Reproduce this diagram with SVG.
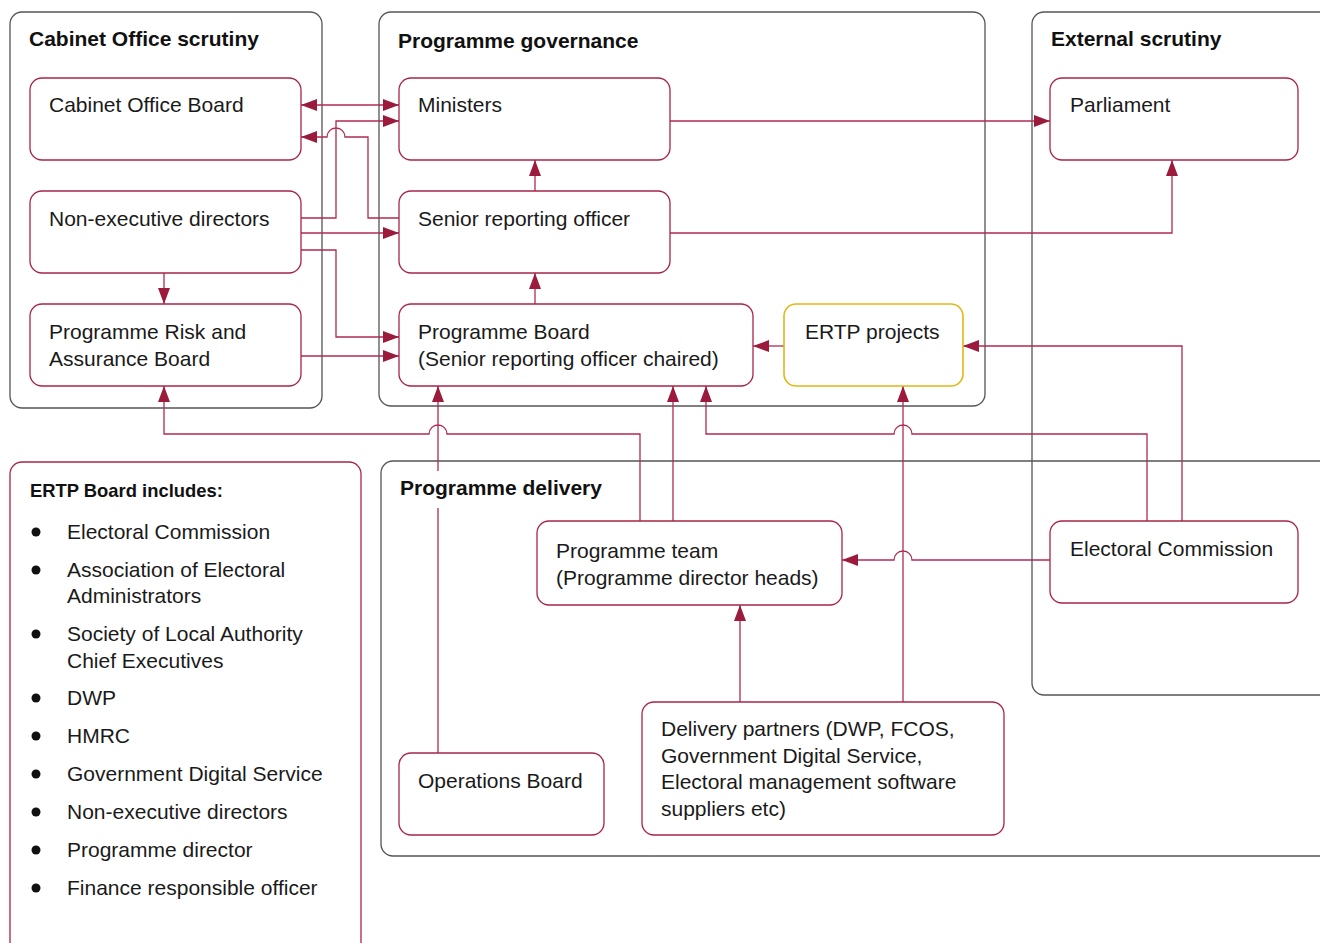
<svg xmlns="http://www.w3.org/2000/svg" width="1320" height="943" viewBox="0 0 1320 943">
<style>
.bg{fill:#fff}
.cont{fill:none;stroke:#555;stroke-width:1.3}
.node{fill:#fff;stroke:#a8244a;stroke-width:1.3}
.gold{fill:#fff;stroke:#e2b714;stroke-width:1.6}
.title{font-family:"Liberation Sans",Arial,sans-serif;font-weight:bold;font-size:21px;fill:#111}
.lbl{font-family:"Liberation Sans",Arial,sans-serif;font-size:21px;fill:#1a1a1a}
.sub{font-family:"Liberation Sans",Arial,sans-serif;font-weight:bold;font-size:18.4px;fill:#111}
.c{fill:none;stroke:#b02a52;stroke-width:1.3}
.arr{marker-end:url(#ah)}
</style>
<defs>
<marker id="ah" viewBox="0 0 16 12" refX="16" refY="6" markerWidth="16" markerHeight="12" markerUnits="userSpaceOnUse" orient="auto-start-reverse">
<path d="M0,0 L16,6 L0,12 z" fill="#9b1b3d"/>
</marker>
</defs>
<rect class="bg" x="0" y="0" width="1320" height="943"/>

<g id="containers">
<rect class="cont" x="10" y="12" width="312" height="396" rx="12"/>
<rect class="cont" x="379" y="12" width="606" height="394" rx="12"/>
<rect class="cont" x="1032" y="12" width="320" height="683" rx="12"/>
<rect class="cont" x="381" y="461" width="980" height="395" rx="12"/>
</g>

<g id="connectors">
<path class="c arr" d="M301,105 L399,105" marker-start="url(#ah)"/>
<path class="c arr" d="M301,218 L336,218 L336,121 L399,121"/>
<path class="c arr" d="M399,218 L368,218 L368,137 L345,137 A9,9 0 0 0 327,137 L301,137"/>
<path class="c arr" d="M301,233 L399,233"/>
<path class="c arr" d="M301,250 L336,250 L336,337 L399,337"/>
<path class="c arr" d="M301,356 L399,356"/>
<path class="c arr" d="M164,273 L164,304"/>
<path class="c arr" d="M535,191 L535,160"/>
<path class="c arr" d="M535,304 L535,273"/>
<path class="c arr" d="M670,121 L1050,121"/>
<path class="c arr" d="M670,233 L1172,233 L1172,160"/>
<path class="c arr" d="M784,346 L753,346"/>
<path class="c arr" d="M1182,521 L1182,346 L963,346"/>
<path class="c arr" d="M1147,521 L1147,434 L912,434 A9,9 0 0 0 894,434 L706,434 L706,386"/>
<path class="c arr" d="M640,521 L640,434 L447,434 A9,9 0 0 0 429,434 L164,434 L164,386"/>
<path class="c arr" d="M673,521 L673,386"/>
<path class="c arr" d="M438,753 L438,386"/>
<path class="c arr" d="M903,702 L903,386"/>
<path class="c arr" d="M740,702 L740,605"/>
<path class="c arr" d="M1050,560 L912,560 A9,9 0 0 0 894,560 L842,560"/>
</g>

<g id="container-titles">
<text class="title" x="29" y="46">Cabinet Office scrutiny</text>
<text class="title" x="398" y="48">Programme governance</text>
<text class="title" x="1051" y="46">External scrutiny</text>
<rect x="398" y="471" width="210" height="37" fill="#fff"/>
<text class="title" x="400" y="495">Programme delivery</text>
</g>

<g id="cabinet-office-board">
<rect class="node" x="30" y="78" width="271" height="82" rx="12"/>
<text class="lbl" x="49" y="112">Cabinet Office Board</text>
</g>
<g id="non-executive-directors">
<rect class="node" x="30" y="191" width="271" height="82" rx="12"/>
<text class="lbl" x="49" y="226">Non-executive directors</text>
</g>
<g id="programme-risk-assurance-board">
<rect class="node" x="30" y="304" width="271" height="82" rx="12"/>
<text class="lbl" x="49" y="339">Programme Risk and</text>
<text class="lbl" x="49" y="366">Assurance Board</text>
</g>
<g id="ministers">
<rect class="node" x="399" y="78" width="271" height="82" rx="12"/>
<text class="lbl" x="418" y="112">Ministers</text>
</g>
<g id="senior-reporting-officer">
<rect class="node" x="399" y="191" width="271" height="82" rx="12"/>
<text class="lbl" x="418" y="226">Senior reporting officer</text>
</g>
<g id="programme-board">
<rect class="node" x="399" y="304" width="354" height="82" rx="12"/>
<text class="lbl" x="418" y="339">Programme Board</text>
<text class="lbl" x="418" y="366">(Senior reporting officer chaired)</text>
</g>
<g id="ertp-projects">
<rect class="gold" x="784" y="304" width="179" height="82" rx="12"/>
<text class="lbl" x="805" y="339">ERTP projects</text>
</g>
<g id="parliament">
<rect class="node" x="1050" y="78" width="248" height="82" rx="12"/>
<text class="lbl" x="1070" y="112">Parliament</text>
</g>
<g id="programme-team">
<rect class="node" x="537" y="521" width="305" height="84" rx="12"/>
<text class="lbl" x="556" y="558">Programme team</text>
<text class="lbl" x="556" y="585">(Programme director heads)</text>
</g>
<g id="electoral-commission">
<rect class="node" x="1050" y="521" width="248" height="82" rx="12"/>
<text class="lbl" x="1070" y="556">Electoral Commission</text>
</g>
<g id="delivery-partners">
<rect class="node" x="642" y="702" width="362" height="133" rx="12"/>
<text class="lbl" x="661" y="736">Delivery partners (DWP, FCOS,</text>
<text class="lbl" x="661" y="763">Government Digital Service,</text>
<text class="lbl" x="661" y="789">Electoral management software</text>
<text class="lbl" x="661" y="816">suppliers etc)</text>
</g>
<g id="operations-board">
<rect class="node" x="399" y="753" width="205" height="82" rx="12"/>
<text class="lbl" x="418" y="788">Operations Board</text>
</g>

<g id="ertp-board-list">
<rect class="node" x="10" y="462" width="351" height="520" rx="12"/>
<text class="sub" x="30" y="497">ERTP Board includes:</text>
<g fill="#111">
<circle cx="36" cy="532" r="4.5"/>
<circle cx="36" cy="570" r="4.5"/>
<circle cx="36" cy="634" r="4.5"/>
<circle cx="36" cy="698" r="4.5"/>
<circle cx="36" cy="736" r="4.5"/>
<circle cx="36" cy="774" r="4.5"/>
<circle cx="36" cy="812" r="4.5"/>
<circle cx="36" cy="850" r="4.5"/>
<circle cx="36" cy="888" r="4.5"/>
</g>
<text class="lbl" x="67" y="539">Electoral Commission</text>
<text class="lbl" x="67" y="577">Association of Electoral</text>
<text class="lbl" x="67" y="603">Administrators</text>
<text class="lbl" x="67" y="641">Society of Local Authority</text>
<text class="lbl" x="67" y="668">Chief Executives</text>
<text class="lbl" x="67" y="705">DWP</text>
<text class="lbl" x="67" y="743">HMRC</text>
<text class="lbl" x="67" y="781">Government Digital Service</text>
<text class="lbl" x="67" y="819">Non-executive directors</text>
<text class="lbl" x="67" y="857">Programme director</text>
<text class="lbl" x="67" y="895">Finance responsible officer</text>
</g>
</svg>
